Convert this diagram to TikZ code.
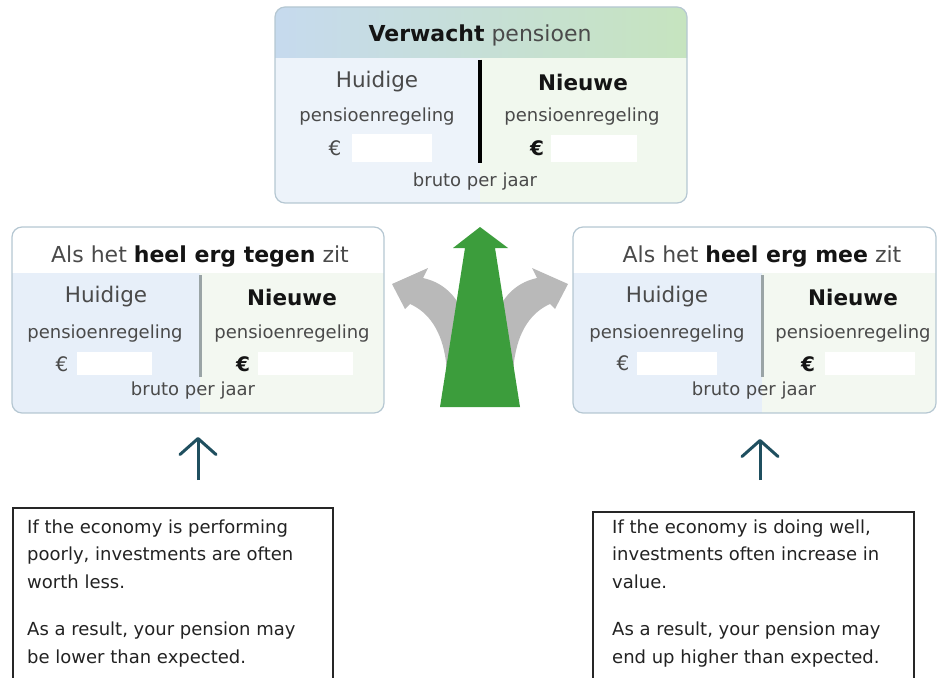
\documentclass[tikz,border=0pt]{standalone}
\usepackage{fontspec}
\setmainfont{DejaVu Sans}
\usetikzlibrary{arrows.meta}
\definecolor{hdrblue}{HTML}{C6DAEE}
\definecolor{hdrgreen}{HTML}{C6E4BF}
\definecolor{topblue}{HTML}{EDF3FA}
\definecolor{topgreen}{HTML}{F1F8EE}
\definecolor{sideblue}{HTML}{E7EFF9}
\definecolor{sidegreen}{HTML}{F3F8F1}
\definecolor{boxborder}{HTML}{B5C7D2}
\definecolor{arrgreen}{HTML}{3C9D3C}
\definecolor{arrgrey}{HTML}{B9B9B9}
\definecolor{tealc}{HTML}{1F4F5F}
\definecolor{txtgrey}{HTML}{4A4A4A}
\definecolor{txtdark}{HTML}{141414}
\definecolor{notetxt}{HTML}{222222}
\definecolor{divgrey}{HTML}{9AA4A6}
\newcommand\fsz[1]{\fontsize{#1}{#1}\selectfont}
\begin{document}
\begin{tikzpicture}[x=1pt,y=-1pt,
  lbl/.style={inner sep=0pt, text=txtgrey},
  hdr/.style={lbl, font=\fsz{22}},
  big/.style={lbl, font=\fsz{21.5}},
  bigb/.style={lbl, text=txtdark, font=\fsz{21.5}\bfseries},
  small/.style={lbl, font=\fsz{18}},
  euro/.style={lbl, font=\fsz{20}},
  eurob/.style={lbl, text=txtdark, font=\fsz{20}\bfseries},
  hide/.style={fill=white},
  boxline/.style={draw=boxborder, line width=1.2pt, rounded corners=10pt},
  notetext/.style={inner sep=0pt, anchor=north west, align=left, text=notetxt,
     font=\fontsize{18}{27.5}\selectfont},
  notebox/.style={draw=black!85, line width=1.2pt},
  uparrow/.style={draw=tealc, line width=3pt,
     -{Straight Barb[length=16pt, width=36pt, line cap=round, line join=round]}}
]
\useasboundingbox (0,0) rectangle (939,677);

% ---------------- top box ----------------
\begin{scope}
  \clip[rounded corners=10pt] (275,7) rectangle (687,203);
  \shade[left color=hdrblue, right color=hdrgreen] (275,7) rectangle (687,58);
  \fill[topblue] (275,58) rectangle (480,203);
  \fill[topgreen] (480,58) rectangle (687,203);
\end{scope}
\draw[boxline] (275,7) rectangle (687,203);
\draw[black, line width=4pt] (480,60) -- (480,163);
\node[hdr] (tophdr) at (480,35) {\textcolor{txtdark}{\bfseries Verwacht} pensioen};
\node[big] (topcur) at (377,82) {Huidige};
\node[bigb] (topnew) at (583,82) {Nieuwe};
\node[small] (topcurr) at (377,117) {pensioenregeling};
\node[small] (topnewr) at (582,117) {pensioenregeling};
\node[euro] (topcure) at (335,148) {€};
\node[eurob] (topnewe) at (537,148) {€};
\fill[hide] (352,134) rectangle (432,162);
\fill[hide] (551,135) rectangle (637,162);
\node[small] (topbruto) at (475,182) {bruto per jaar};

% ---------------- left box ----------------
\begin{scope}
  \clip[rounded corners=10pt] (12,227) rectangle (384,413);
  \fill[white] (12,227) rectangle (384,273);
  \fill[sideblue] (12,273) rectangle (200,413);
  \fill[sidegreen] (200,273) rectangle (384,413);
\end{scope}
\draw[boxline] (12,227) rectangle (384,413);
\draw[divgrey, line width=3pt] (200,275) -- (200,377);
\node[hdr] (lhdr) at (200,257) {Als het \textcolor{txtdark}{\bfseries heel erg tegen} zit};
\node[big] (lcur) at (106,297) {Huidige};
\node[bigb] (lnew) at (292,297) {Nieuwe};
\node[small] (lcurr) at (105,334) {pensioenregeling};
\node[small] (lnewr) at (292,334) {pensioenregeling};
\node[euro] (lcure) at (62,364) {€};
\node[eurob] (lnewe) at (243,364) {€};
\fill[hide] (77,352) rectangle (152,375);
\fill[hide] (258,352) rectangle (353,375);
\node[small] (lbruto) at (193,391) {bruto per jaar};

% ---------------- right box ----------------
\begin{scope}
  \clip[rounded corners=10pt] (573,227) rectangle (936,413);
  \fill[white] (573,227) rectangle (936,273);
  \fill[sideblue] (573,273) rectangle (762,413);
  \fill[sidegreen] (762,273) rectangle (936,413);
\end{scope}
\draw[boxline] (573,227) rectangle (936,413);
\draw[divgrey, line width=3pt] (762,275) -- (762,377);
\node[hdr] (rhdr) at (762,257) {Als het \textcolor{txtdark}{\bfseries heel erg mee} zit};
\node[big] (rcur) at (667,297) {Huidige};
\node[bigb] (rnew) at (853,297) {Nieuwe};
\node[small] (rcurr) at (667,334) {pensioenregeling};
\node[small] (rnewr) at (853,334) {pensioenregeling};
\node[euro] (rcure) at (623,363) {€};
\node[eurob] (rnewe) at (808,364) {€};
\fill[hide] (637,352) rectangle (717,375);
\fill[hide] (825,352) rectangle (915,375);
\node[small] (rbruto) at (754,391) {bruto per jaar};

% ---------------- central arrows ----------------
\fill[arrgrey] (449,400) -- (446,362) .. controls (442,330) and (428,312) .. (410,304)
  -- (405,309) -- (392,284) -- (428,268) -- (423,278)
  .. controls (446,283) and (463,300) .. (470,335) -- (472,400) -- cycle;
\fill[arrgrey] (511,400) -- (514,362) .. controls (518,330) and (532,312) .. (550,304)
  -- (555,309) -- (568,284) -- (532,268) -- (537,278)
  .. controls (514,283) and (497,300) .. (490,335) -- (488,400) -- cycle;
\fill[arrgreen] (440,407) -- (465,248) -- (453,248) -- (480,227) -- (508,248)
  -- (495,248) -- (520,407) -- cycle;

% ---------------- small up arrows ----------------
\coordinate (lafrom) at (198,480);
\coordinate (lato) at (198,437);
\coordinate (rafrom) at (760,480);
\coordinate (rato) at (760,439);
\draw[uparrow] (lafrom) -- (lato);
\draw[uparrow] (rafrom) -- (rato);

% ---------------- note boxes ----------------
\draw[notebox] (13,690) -- (13,508) -- (333,508) -- (333,690);
\draw[notebox] (593,690) -- (593,512) -- (914,512) -- (914,690);
\node[notetext] (lnote) at (27,519.5) {If the economy is performing\\
poorly, investments are often\\ worth less.\\[20pt]
As a result, your pension may\\ be lower than expected.};
\node[notetext] (rnote) at (612,519.5) {If the economy is doing well,\\
investments often increase in\\ value.\\[20pt]
As a result, your pension may\\ end up higher than expected.};
\end{tikzpicture}
\end{document}
